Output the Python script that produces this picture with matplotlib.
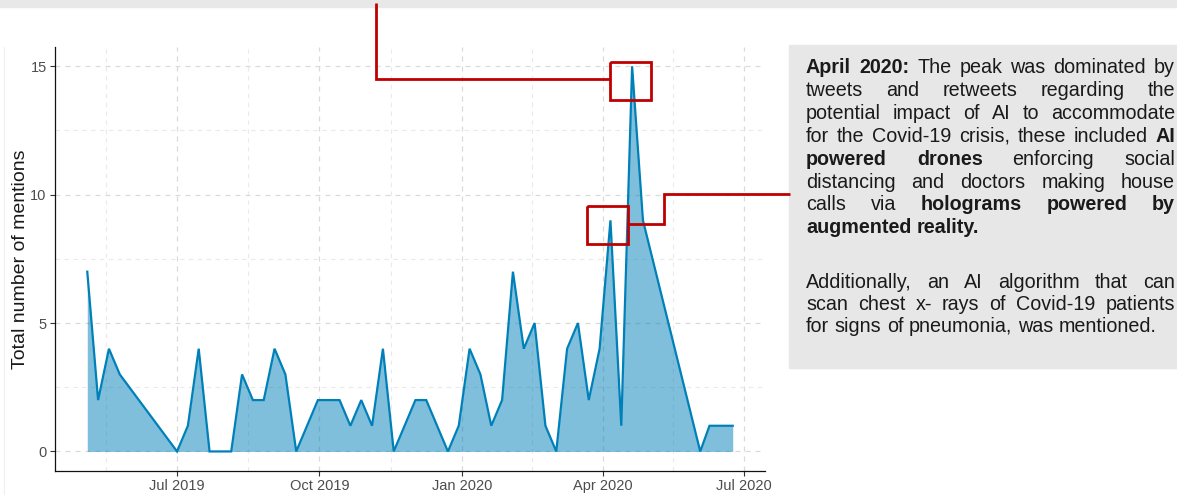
import matplotlib
matplotlib.use("Agg")
import matplotlib.pyplot as plt
import matplotlib.dates as mdates
from matplotlib.transforms import IdentityTransform
from matplotlib.lines import Line2D
from matplotlib.patches import Rectangle
import numpy as np
import pandas as pd

plt.rcParams['font.family'] = ['Liberation Sans', 'DejaVu Sans']

# ---------------- data ----------------
dates = ["2019-05-04", "2019-05-11", "2019-05-18", "2019-05-25", "2019-07-01",
         "2019-07-08", "2019-07-15", "2019-07-22", "2019-08-05", "2019-08-12",
         "2019-08-19", "2019-08-26", "2019-09-02", "2019-09-09", "2019-09-16",
         "2019-09-30", "2019-10-14", "2019-10-21", "2019-10-28", "2019-11-04",
         "2019-11-11", "2019-11-18", "2019-12-02", "2019-12-09", "2019-12-23",
         "2019-12-30", "2020-01-06", "2020-01-13", "2020-01-20", "2020-01-27",
         "2020-02-03", "2020-02-10", "2020-02-17", "2020-02-24", "2020-03-02",
         "2020-03-09", "2020-03-16", "2020-03-23", "2020-03-30", "2020-04-06",
         "2020-04-13", "2020-04-20", "2020-04-27", "2020-06-03", "2020-06-09",
         "2020-06-24"]
mentions = [7, 2, 4, 3, 0, 1, 4, 0, 0, 3, 2, 2, 4, 3, 0, 2, 2, 1, 2, 1,
            4, 0, 2, 2, 0, 1, 4, 3, 1, 2, 7, 4, 5, 1, 0, 4, 5, 2, 4, 9,
            1, 15, 9, 0, 1, 1]

x_tick_dates = ["2019-07-01", "2019-10-01", "2020-01-01", "2020-04-01", "2020-07-01"]
x_tick_labels = ["Jul 2019", "Oct 2019", "Jan 2020", "Apr 2020", "Jul 2020"]
y_ticks = [0, 5, 10, 15]
y_minor_ticks = [2.5, 7.5, 12.5]
y_label = "Total number of mentions"

# annotation text: lines of words, each word = (text, bold)
para1 = [
    [("April", True), ("2020:", True), ("The", False), ("peak", False), ("was", False), ("dominated", False), ("by", False)],
    [("tweets", False), ("and", False), ("retweets", False), ("regarding", False), ("the", False)],
    [("potential", False), ("impact", False), ("of", False), ("AI", False), ("to", False), ("accommodate", False)],
    [("for", False), ("the", False), ("Covid-19", False), ("crisis,", False), ("these", False), ("included", False), ("AI", True)],
    [("powered", True), ("drones", True), ("enforcing", False), ("social", False)],
    [("distancing", False), ("and", False), ("doctors", False), ("making", False), ("house", False)],
    [("calls", False), ("via", False), ("holograms", True), ("powered", True), ("by", True)],
    [("augmented", True), ("reality.", True)],
]
para2 = [
    [("Additionally,", False), ("an", False), ("AI", False), ("algorithm", False), ("that", False), ("can", False)],
    [("scan", False), ("chest", False), ("x-", False), ("rays", False), ("of", False), ("Covid-19", False), ("patients", False)],
    [("for", False), ("signs", False), ("of", False), ("pneumonia,", False), ("was", False), ("mentioned.", False)],
]

# ---------------- styles ----------------
W, H = 1177, 495
LINE = "#0080B8"
RED = "#C00000"
BOXGRAY = "#E7E7E7"
FS_TXT = 14.2
TICK_FS = 10.5

fig = plt.figure(figsize=(W / 100, H / 100), dpi=100)
fig.patch.set_facecolor("white")

ax_left, ax_right, ax_top, ax_bot = 55, 765, 47, 470.7
ax = fig.add_axes([ax_left / W, (H - ax_bot) / H, (ax_right - ax_left) / W, (ax_bot - ax_top) / H])

d = pd.to_datetime(dates)
xn = mdates.date2num(d)
y = np.array(mentions, dtype=float)

ax.fill_between(xn, 0, y, color=LINE, alpha=0.5, linewidth=0, zorder=2)
ax.plot(xn, y, color=LINE, lw=1.6, zorder=3, solid_joinstyle="miter")

rng = xn.max() - xn.min()
ax.set_xlim(xn.min() - 0.05 * rng, xn.max() + 0.05 * rng)
yr = max(mentions) - 0
ax.set_ylim(0 - 0.05 * yr, max(mentions) + 0.05 * yr)

maj = mdates.date2num(pd.to_datetime(x_tick_dates))
step = maj[1] - maj[0]
ext = np.concatenate([[maj[0] - step], maj])
minor_x = (ext[:-1] + ext[1:]) / 2
ax.set_xticks(maj)
ax.set_xticklabels(x_tick_labels)
ax.set_xticks(minor_x, minor=True)
ax.set_yticks(y_ticks)
ax.set_yticklabels([str(v) for v in y_ticks])
ax.set_yticks(y_minor_ticks, minor=True)

ax.set_axisbelow(True)
ax.grid(which="major", color="#DADADA", linestyle=(0, (4, 4)), linewidth=0.9)
ax.grid(which="minor", color="#EAEAEA", linestyle=(0, (4, 4)), linewidth=0.8)

for s in ["top", "right"]:
    ax.spines[s].set_visible(False)
for s in ["left", "bottom"]:
    ax.spines[s].set_color("#111111")
    ax.spines[s].set_linewidth(0.9)

ax.tick_params(which="major", direction="out", length=3.5, width=0.8, color="#333333",
               labelcolor="#4D4D4D", labelsize=TICK_FS, pad=2.5)
ax.tick_params(which="minor", length=0)

ax.set_ylabel(y_label, fontsize=14, color="#1A1A1A", va="baseline", rotation_mode="anchor")
ax.yaxis.set_label_coords((25 - ax_left) / (ax_right - ax_left), 0.5)

# ---------------- decorations (pixel coordinates) ----------------
T = IdentityTransform()


def py(v):
    return H - v


fig.patches.append(Rectangle((0, py(7)), W, 7, transform=T, color="#E8E8E8", zorder=0))
fig.lines.append(Line2D([4, 4], [py(47), py(495)], transform=T, color="#EFEFEF", lw=0.8))
fig.patches.append(Rectangle((789, py(368)), W - 789, 368 - 45, transform=T, color=BOXGRAY, zorder=0))

red_kw = dict(transform=T, color=RED, lw=2.0, solid_capstyle="butt", solid_joinstyle="miter", zorder=10)
# box around peak
fig.lines.append(Line2D([610, 651, 651, 610, 610], [py(62), py(62), py(100), py(100), py(62)], **red_kw))
# box around second peak
fig.lines.append(Line2D([587, 628, 628, 587, 587], [py(206), py(206), py(244), py(244), py(206)], **red_kw))
# connectors
fig.lines.append(Line2D([376, 376, 610], [py(3), py(79), py(79)], **red_kw))
fig.lines.append(Line2D([628, 664, 664, 790], [py(224), py(224), py(194), py(194)], **red_kw))

# ---------------- justified text ----------------
renderer = fig.canvas.get_renderer()


def width(s, bold):
    t = fig.text(0, 0, s, fontsize=FS_TXT, fontweight="bold" if bold else "normal", transform=T)
    w = t.get_window_extent(renderer).width
    t.remove()
    return w


space_w = width("H H", False) - width("HH", False)
TX_L, TX_R = 806, 1175


def draw_line(words, base_y, justify):
    ws = [width(p, b) for p, b in words]
    if justify and len(words) > 1:
        gap = (TX_R - TX_L - sum(ws)) / (len(words) - 1)
    else:
        gap = space_w
    x = TX_L
    for (p, b), w in zip(words, ws):
        fig.text(x, py(base_y), p, fontsize=FS_TXT, fontweight="bold" if b else "normal",
                 color="#1A1A1A", transform=T, ha="left", va="baseline")
        x += w + gap


for i, line in enumerate(para1):
    draw_line(line, 73.3 + 22.85 * i, i < len(para1) - 1)
for i, line in enumerate(para2):
    draw_line(line, 288.3 + 22.0 * i, i < len(para2) - 1)

fig.savefig("out.png", dpi=100)
